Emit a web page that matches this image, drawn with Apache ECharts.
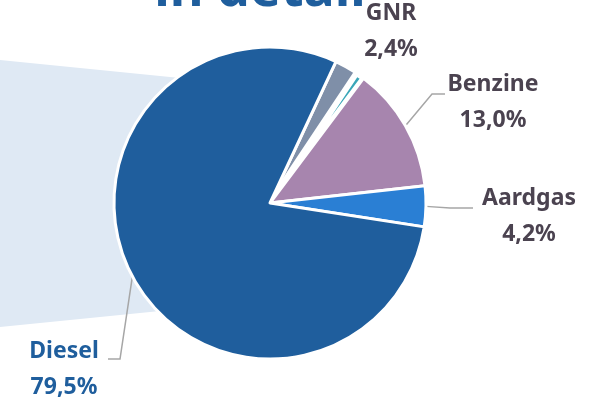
<!DOCTYPE html>
<html>
<head>
<meta charset="utf-8">
<script src="https://cdn.jsdelivr.net/npm/echarts@6/dist/echarts.min.js"></script>
<style>
  html, body { margin: 0; padding: 0; background: #fff; }
  #chart { width: 605px; height: 400px; }
</style>
</head>
<body>
<div id="chart"></div>
<script>
// brandstoffen (aandeel in %)
const names = ['GNR', 'Overig', 'Benzine', 'Aardgas', 'Diesel']
const shares = [2.4, 0.9, 13.0, 4.2, 79.5]
const labelsTxt = ['2,4%', '', '13,0%', '4,2%', '79,5%']
const sliceColors = ['#7f8fa8', '#3aa6b8', '#a785ae', '#2a7fd4', '#1f5e9d']

// label anchors (layout only)
const labelPos = [
  { x: 391, y: 31 },
  null,
  { x: 493, y: 102, bend: [432, 94], end: [445, 94] },
  { x: 529, y: 216, bend: [450, 208], end: [473, 208] },
  { x: 64, y: 369, bend: [120, 359], end: [108, 359] }
]

let myChart = echarts.init(document.getElementById('chart'))

let seriesData = names.map((n, i) => ({
  name: n,
  value: shares[i],
  itemStyle: i === 1
    ? { color: sliceColors[i], borderWidth: 6 }
    : { color: sliceColors[i] },
  label: {
    show: i !== 1,
    formatter: '{a|' + n + '}\n{b|' + labelsTxt[i] + '}',
    rich: {
      a: { color: i === 4 ? '#1f5e9d' : '#4b4350' },
      b: { color: i === 4 ? '#1f5e9d' : '#4b4350' }
    }
  },
  labelLine: { show: i !== 0 && i !== 1 }
}))

let option = {
  animation: false,
  graphic: [
    {
      type: 'polygon',
      z: -10,
      shape: { points: [[0, 60], [270, 87], [270, 300], [0, 327]] },
      style: { fill: '#dfe9f4' }
    },
    {
      type: 'text',
      z: 10,
      x: 260,
      y: -9,
      style: {
        text: 'in detail',
        fill: '#1f5e9d',
        font: 'bold 52px "Noto Sans"',
        align: 'center',
        verticalAlign: 'middle'
      }
    }
  ],
  series: [
    {
      type: 'pie',
      center: [270, 203],
      radius: 156,
      startAngle: 65,
      clockwise: true,
      itemStyle: {
        borderColor: '#fff',
        borderWidth: 3
      },
      label: {
        show: true,
        position: 'outside',
        fontFamily: 'Noto Sans',
        fontWeight: 'bold',
        fontSize: 23,
        lineHeight: 36,
        align: 'center',
        rich: {
          a: { fontFamily: 'Noto Sans', fontWeight: 'bold', fontSize: 23, lineHeight: 36, align: 'center' },
          b: { fontFamily: 'Noto Sans', fontWeight: 'bold', fontSize: 23, lineHeight: 36, align: 'center' }
        }
      },
      labelLine: {
        show: true,
        lineStyle: { color: '#a6a6a6', width: 1.5 }
      },
      labelLayout: function (params) {
        let p = labelPos[params.dataIndex]
        if (!p) return {}
        let res = { x: p.x, y: p.y, align: 'center', verticalAlign: 'middle' }
        if (p.bend && params.labelLinePoints) {
          let start = params.labelLinePoints[0]
          res.labelLinePoints = [start, p.bend, p.end]
        }
        return res
      },
      data: seriesData
    }
  ]
}

myChart.setOption(option)
</script>
</body>
</html>
